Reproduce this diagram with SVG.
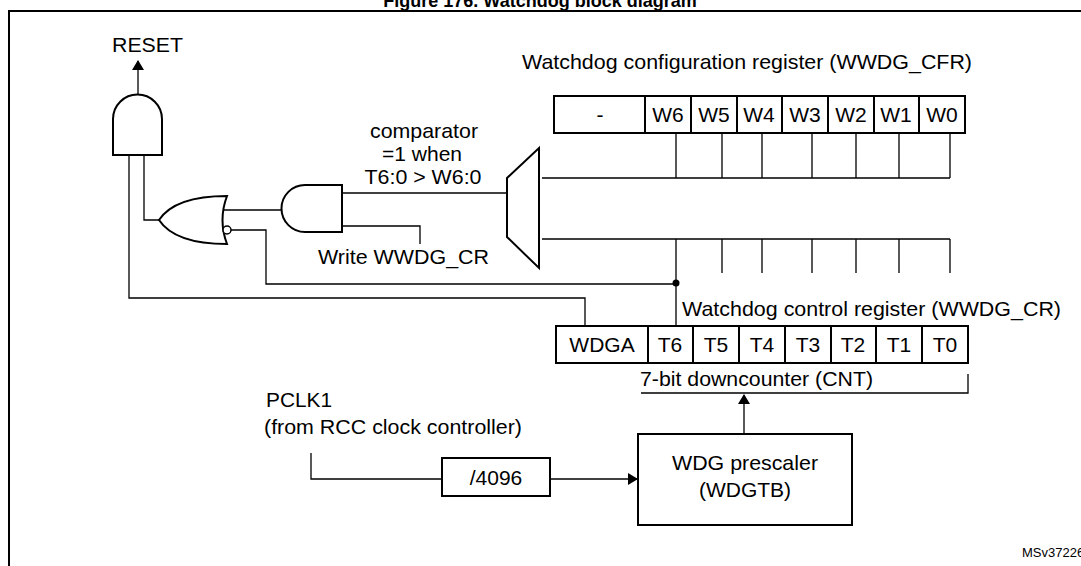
<svg xmlns="http://www.w3.org/2000/svg" width="1081" height="566" viewBox="0 0 1081 566">
<style>
text{font-family:"Liberation Sans",Arial,sans-serif;fill:#000}
.t{font-size:21px}
.c{text-anchor:middle}
.b{fill:#fff;stroke:#000;stroke-width:2}
.w{fill:none;stroke:#000;stroke-width:1.3}
</style>
<defs><marker id="ah" markerWidth="10" markerHeight="12" refX="9" refY="6" orient="auto" markerUnits="userSpaceOnUse"><path d="M0,0 L10,6 L0,12 Z" fill="#000"/></marker></defs>
<rect width="1081" height="566" fill="#fff"/>
<text x="540" y="7" class="c" style="font-size:18px;font-weight:bold">Figure 176. Watchdog block diagram</text>
<rect x="9" y="11" width="1080" height="570" fill="none" stroke="#000" stroke-width="2"/>
<g id="connectors">
<path class="w" d="M138,95 V61" marker-end="url(#ah)"/>
<path class="w" d="M144,155 V220 H159"/>
<path class="w" d="M129,155 V298 H585 V326"/>
<path class="w" d="M221,210 H281"/>
<path class="w" d="M231,230 H266 V284 H676"/>
<path class="w" d="M342,193 H507"/>
<path class="w" d="M342,226 H420 V244"/>
<path class="w" d="M542,178 H950 M676,133 V178 M722,133 V178 M762,133 V178 M812,133 V178 M856,133 V178 M899,133 V178 M950,133 V178"/>
<path class="w" d="M542,239 H950 M676,239 V326 M722,239 V273 M762,239 V273 M812,239 V273 M856,239 V273 M899,239 V273 M950,239 V273"/>
<circle cx="676" cy="283" r="3.5" fill="#000"/>
<path class="w" d="M641,393 H968 V374"/>
<path class="w" d="M744,434 V395" marker-end="url(#ah)"/>
<path class="w" d="M311,453 V479 H442"/>
<path class="w" d="M550,479 H637" marker-end="url(#ah)"/>
</g>
<g id="reset"><text x="112" y="52" class="t" textLength="71" lengthAdjust="spacingAndGlyphs">RESET</text></g>
<g id="and1"><path class="b" d="M113,155 V119 A24.5,24.5 0 0 1 162,119 V155 Z"/></g>
<g id="or"><path class="b" d="M227,196 Q218,220 227,244 Q175,244 159,220 Q175,196 227,196 Z"/><circle cx="227" cy="230" r="4" fill="#fff" stroke="#000" stroke-width="1.5"/></g>
<g id="and2"><path class="b" d="M342,185 V232 H305 A23.5,23.5 0 0 1 305,185 Z"/></g>
<g id="comparator-label"><text x="424" y="138" class="t c" textLength="108" lengthAdjust="spacingAndGlyphs">comparator</text><text x="422" y="161" class="t c" textLength="80" lengthAdjust="spacingAndGlyphs">=1 when</text><text x="423" y="184" class="t c" textLength="117" lengthAdjust="spacingAndGlyphs">T6:0 &gt; W6:0</text></g>
<g id="write-label"><text x="318" y="264" class="t" textLength="171" lengthAdjust="spacingAndGlyphs">Write WWDG_CR</text></g>
<g id="comparator"><path class="b" d="M507,178 L539,148 V268 L507,237 Z"/></g>
<g id="cfr">
<text x="522" y="69" class="t" textLength="450" lengthAdjust="spacingAndGlyphs">Watchdog configuration register (WWDG_CFR)</text>
<rect class="b" x="554" y="96" width="411" height="37"/>
<path class="b" d="M645,96 V133 M691,96 V133 M737,96 V133 M782,96 V133 M828,96 V133 M874,96 V133 M919,96 V133"/>
<text x="600" y="122" class="t c">-</text><text x="668" y="122" class="t c">W6</text><text x="714" y="122" class="t c">W5</text><text x="759" y="122" class="t c">W4</text><text x="805" y="122" class="t c">W3</text><text x="851" y="122" class="t c">W2</text><text x="896" y="122" class="t c">W1</text><text x="942" y="122" class="t c">W0</text>
</g>
<g id="cr">
<text x="682" y="316" class="t" textLength="379" lengthAdjust="spacingAndGlyphs">Watchdog control register (WWDG_CR)</text>
<rect class="b" x="556" y="326" width="412" height="37"/>
<path class="b" d="M648,326 V363 M693,326 V363 M739,326 V363 M785,326 V363 M831,326 V363 M876,326 V363 M922,326 V363"/>
<text x="602" y="352" class="t c">WDGA</text><text x="670" y="352" class="t c">T6</text><text x="716" y="352" class="t c">T5</text><text x="762" y="352" class="t c">T4</text><text x="808" y="352" class="t c">T3</text><text x="853" y="352" class="t c">T2</text><text x="899" y="352" class="t c">T1</text><text x="945" y="352" class="t c">T0</text>
<text x="640" y="386" class="t" textLength="233" lengthAdjust="spacingAndGlyphs">7-bit downcounter (CNT)</text>
</g>
<g id="pclk"><text x="266" y="407" class="t" textLength="66" lengthAdjust="spacingAndGlyphs">PCLK1</text><text x="264" y="434" class="t" textLength="258" lengthAdjust="spacingAndGlyphs">(from RCC clock controller)</text></g>
<g id="div4096"><rect class="b" x="442" y="458" width="108" height="38"/><text x="496" y="485" class="t c">/4096</text></g>
<g id="prescaler"><rect class="b" x="638" y="434" width="214" height="91"/><text x="745" y="470" class="t c" textLength="146" lengthAdjust="spacingAndGlyphs">WDG prescaler</text><text x="745" y="497" class="t c">(WDGTB)</text></g>
<text x="1022" y="557" style="font-size:13px">MSv37226V2</text>
</svg>
